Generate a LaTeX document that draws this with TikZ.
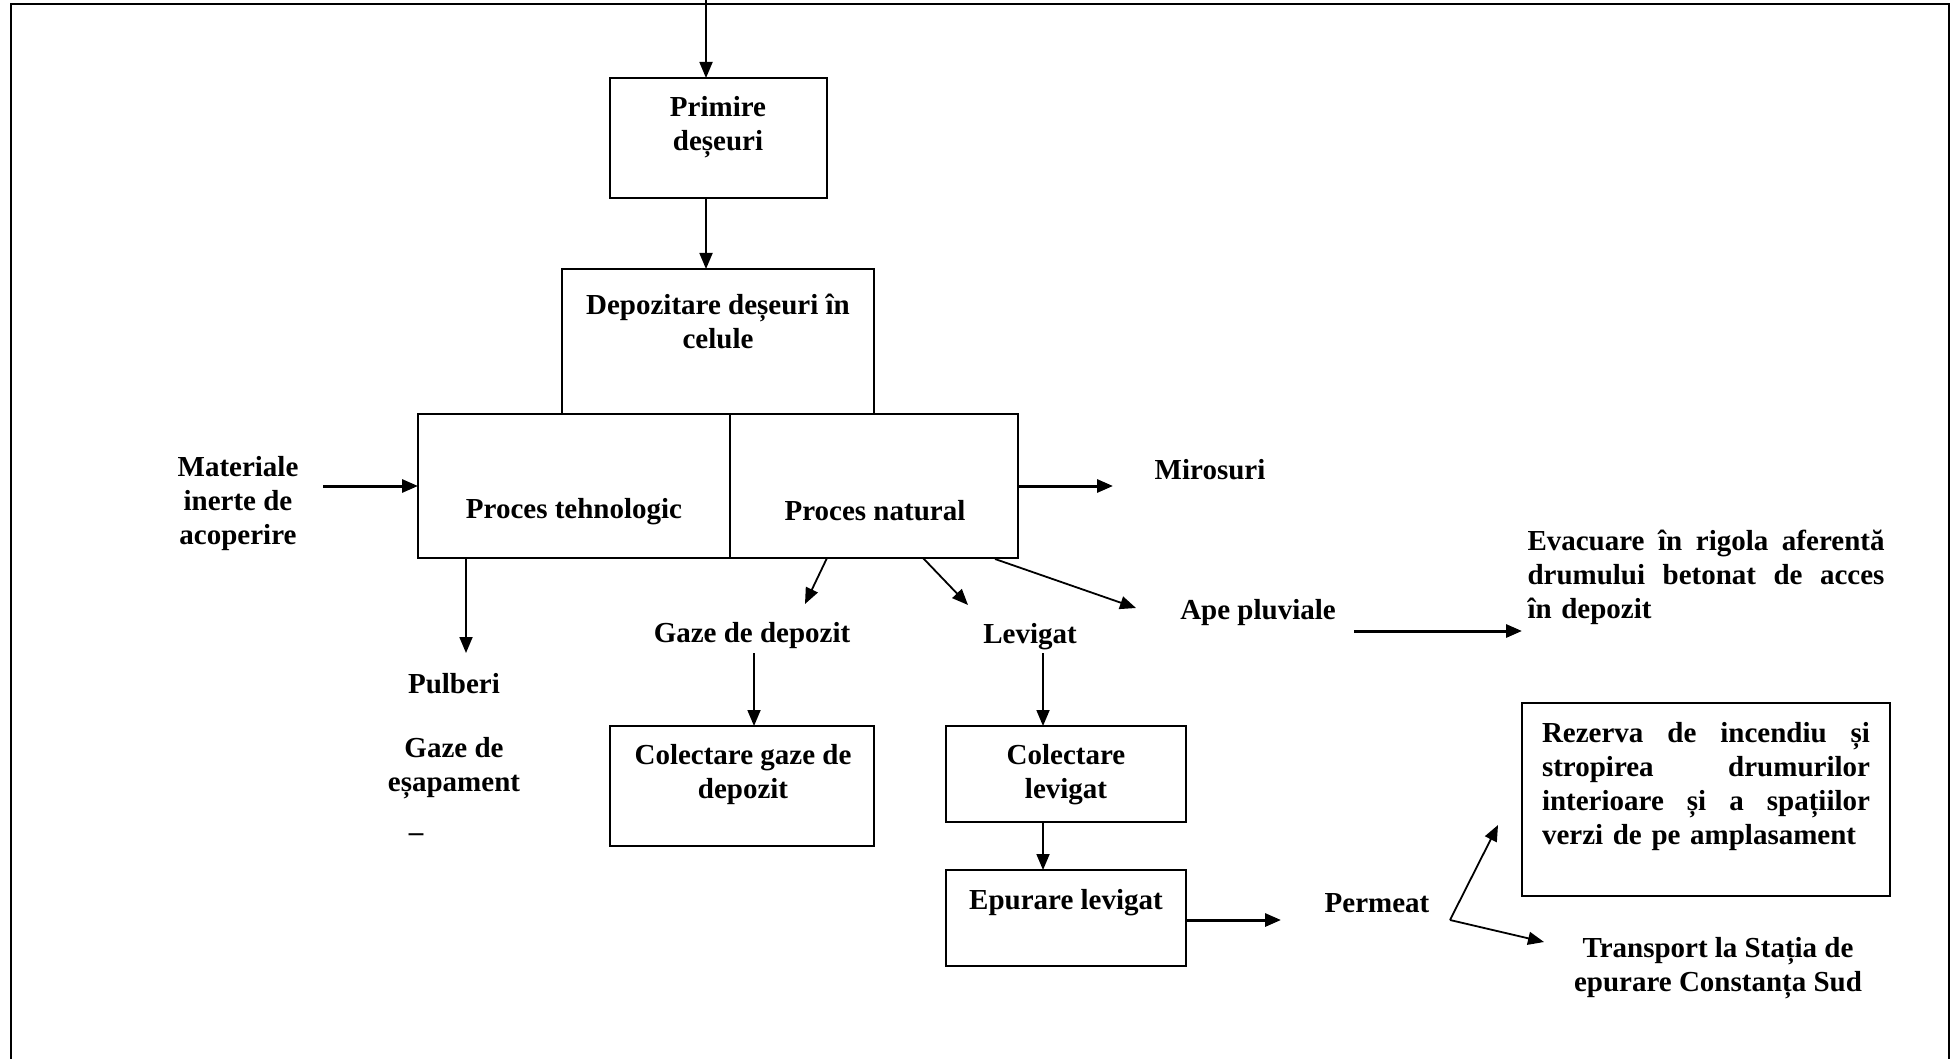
\documentclass[tikz,border=0pt]{standalone}
\usepackage{fontspec}
\setmainfont{Liberation Serif}
\usetikzlibrary{arrows.meta}
\begin{document}
\begin{tikzpicture}[x=1pt,y=-1pt,
  box/.style={draw,line width=1.8pt,inner sep=0pt,outer sep=0pt,anchor=north west},
  txt/.style={font=\fontsize{29}{34}\selectfont\bfseries,inner sep=0pt,align=center},
  arr/.style={-{Triangle[length=16pt,width=13pt]},line width=1.8pt},
  tarr/.style={arr,line width=3pt}]
\useasboundingbox (0,0) rectangle (1958,1059);
% outer frame
\draw[line width=2.5pt] (11,1075) -- (11,4) -- (1949,4) -- (1949,1075);

% boxes
\node[box,minimum width=217pt,minimum height=120pt] (primire) at (610,78) {};
\node[box,minimum width=312pt,minimum height=145pt] (depoz) at (562,269) {};
\node[box,minimum width=312pt,minimum height=144pt] (tehn) at (418,414) {};
\node[box,minimum width=288pt,minimum height=144pt] (natur) at (730,414) {};
\node[box,minimum width=264pt,minimum height=120pt] (colgaz) at (610,726) {};
\node[box,minimum width=240pt,minimum height=96pt] (collev) at (946,726) {};
\node[box,minimum width=240pt,minimum height=96pt] (epur) at (946,870) {};
\node[box,minimum width=368pt,minimum height=193pt] (rez) at (1522,703) {};

% texts
\node[txt] (tprim) at (718,127) {Primire\\deșeuri};
\node[txt] (tdep) at (718,321) {Depozitare deșeuri în\\celule};
\node[txt] (ttehn) at (574,512) {Proces tehnologic};
\node[txt] (tnat) at (875,511) {Proces natural};
\node[txt] (mat) at (238,504) {Materiale\\inerte de\\acoperire};
\node[txt] (miros) at (1210,470) {Mirosuri};
\node[txt] (pulb) at (454,684) {Pulberi};
\node[txt] (gazesap) at (454,768) {Gaze de\\eșapament};
\node[txt] (dash) at (416,838) {–};
\node[txt] (gazdep) at (752,636) {Gaze de depozit};
\node[txt] (lev) at (1030,637) {Levigat};
\node[txt] (ape) at (1258,613) {Ape pluviale};
\node[txt,text width=357pt,align=left] (evac) at (1706,577)
  {\makebox[357pt][s]{Evacuare\hfill în\hfill rigola\hfill aferentă}\\\makebox[357pt][s]{drumului\hfill betonat\hfill de\hfill acces}\\în depozit};
\node[txt] (tcolgaz) at (743,775) {Colectare gaze de\\depozit};
\node[txt] (tcollev) at (1066,775) {Colectare\\levigat};
\node[txt] (tepur) at (1066,903) {Epurare levigat};
\node[txt] (perm) at (1377,903) {Permeat};
\node[txt,text width=328pt,align=left] (trez) at (1706,787)
  {\makebox[328pt][s]{Rezerva\hfill de\hfill incendiu\hfill și}\\\makebox[328pt][s]{stropirea\hfill drumurilor}\\\makebox[328pt][s]{interioare\hfill și\hfill a\hfill spațiilor}\\verzi de pe amplasament};
\node[txt] (transp) at (1718,968) {Transport la Stația de\\epurare Constanța Sud};

% coordinates for free ends
\coordinate (top) at (706,-2);
\coordinate (pm) at (1450,920);
\coordinate (matA) at (323,486);
\coordinate (mirB) at (1113,486);
\coordinate (pulA) at (466,558);
\coordinate (pulB) at (466,653);
\coordinate (gzA) at (827,558);
\coordinate (gzB) at (805,604);
\coordinate (lvA) at (923,558);
\coordinate (lvB) at (968,605);
\coordinate (apA) at (995,559);
\coordinate (apB) at (1136,608);
\coordinate (evA) at (1354,631);
\coordinate (evB) at (1522,631);
\coordinate (gdA) at (754,653);
\coordinate (llA) at (1043,653);
\coordinate (epB) at (1281,920);
\coordinate (rzB) at (1498,825);
\coordinate (trB) at (1544,942);

% connectors
\draw[arr] (top) -- (top |- primire.north);
\draw[arr] (top |- primire.south) -- (top |- depoz.north);
\draw[tarr] (matA) -- (matA -| tehn.west);
\draw[tarr] (mirB -| natur.east) -- (mirB);
\draw[arr] (pulA) -- (pulB);
\draw[arr] (gzA) -- (gzB);
\draw[arr] (lvA) -- (lvB);
\draw[arr] (apA) -- (apB);
\draw[tarr] (evA) -- (evB);
\draw[arr] (gdA) -- (gdA |- colgaz.north);
\draw[arr] (llA) -- (llA |- collev.north);
\draw[arr] (llA |- collev.south) -- (llA |- epur.north);
\draw[tarr] (epB -| epur.east) -- (epB);
\draw[arr] (pm) -- (rzB);
\draw[arr] (pm) -- (trB);
\end{tikzpicture}
\end{document}
